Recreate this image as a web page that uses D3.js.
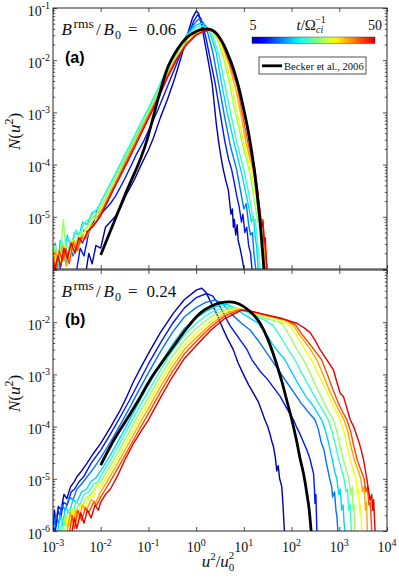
<!DOCTYPE html>
<html><head><meta charset="utf-8">
<script src="https://cdn.jsdelivr.net/npm/d3@7"></script>
<style>body{margin:0;background:#fff}svg{display:block}</style>
</head><body>
<svg id="c" width="399" height="578"></svg>
<script>
// ---------------- DATA ----------------
// times of the coloured curves (t / Omega_ci^-1)
const times = [5,10,15,20,25,30,35,40,45,50];
const panelLabels = ["(a)","(b)"];
const brmsValues = ["0.06","0.24"];
const xTickExps = [-3,-2,-1,0,1,2,3,4];
const yTickExpsA = [-5,-4,-3,-2,-1];
const yTickExpsB = [-6,-5,-4,-3,-2];
const legendText = "Becker et al., 2006";
// each point: [log10(u^2/u0^2), log10 N(u^2)]
// ---- panel (a) B_rms/B0 = 0.06 ----
const a05=[[-2.3,-6.0],[-2.25,-5.7],[-2.18,-5.9],[-2.1,-5.55],[-2.0,-5.6],[-1.9,-5.2],[-1.8,-5.1],[-1.7,-5.0],[-1.6,-4.85],[-1.45,-4.55],[-1.3,-4.3],[-1.15,-4.0],[-1.0,-3.72],[-0.9,-3.5],[-0.75,-3.1],[-0.6,-2.75],[-0.45,-2.35],[-0.3,-1.9],[-0.18,-1.5],[-0.08,-1.2],[0.0,-1.06],[0.05,-1.1],[0.12,-1.35],[0.2,-1.75],[0.27,-2.1],[0.335,-2.45],[0.375,-2.8],[0.42,-3.2],[0.466,-3.53],[0.52,-3.85],[0.57,-4.1],[0.62,-4.3],[0.675,-4.49],[0.7,-4.7],[0.73,-4.95],[0.76,-4.85],[0.78,-5.2],[0.8,-5.05],[0.83,-5.35],[0.86,-5.15],[0.88,-5.45],[0.92,-5.6],[0.97,-5.83],[1.0,-6.0]];
const a10=[[-2.5,-6.0],[-2.43,-5.6],[-2.35,-5.75],[-2.25,-5.3],[-2.15,-5.1],[-2.08,-4.9],[-2.0,-4.95],[-1.9,-4.85],[-1.8,-4.75],[-1.7,-4.62],[-1.6,-4.45],[-1.5,-4.28],[-1.38,-4.05],[-1.25,-3.8],[-1.1,-3.55],[-1.0,-3.35],[-0.8,-2.95],[-0.6,-2.5],[-0.4,-2.05],[-0.2,-1.6],[-0.05,-1.25],[0.03,-1.13],[0.1,-1.2],[0.2,-1.55],[0.3,-2.0],[0.405,-2.475],[0.5,-3.0],[0.6,-3.55],[0.68,-3.9],[0.745,-4.1],[0.8,-4.35],[0.85,-4.6],[0.9,-4.8],[0.95,-5.1],[0.98,-4.95],[1.02,-5.3],[1.06,-5.2],[1.1,-5.55],[1.14,-5.7],[1.17,-6.0]];
const a15=[[-2.95,-6.0],[-2.9,-5.75],[-2.85,-6.0],[-2.8,-5.7],[-2.72,-5.9],[-2.65,-5.55],[-2.58,-5.75],[-2.5,-5.45],[-2.42,-5.5],[-2.35,-5.25],[-2.25,-5.3],[-2.15,-5.05],[-2.05,-4.98],[-1.95,-4.78],[-1.8,-4.52],[-1.65,-4.25],[-1.5,-3.95],[-1.3,-3.55],[-1.1,-3.2],[-0.9,-2.85],[-0.7,-2.45],[-0.5,-2.05],[-0.3,-1.7],[-0.15,-1.45],[0.0,-1.26],[0.06,-1.21],[0.15,-1.28],[0.25,-1.5],[0.35,-1.85],[0.476,-2.475],[0.6,-3.1],[0.72,-3.65],[0.85,-4.1],[0.93,-4.5],[1.0,-4.85],[1.05,-4.75],[1.1,-5.15],[1.14,-5.35],[1.18,-5.3],[1.21,-5.7],[1.25,-6.0]];
const a20=[[-3.0,-5.75],[-2.95,-5.5],[-2.9,-6.0],[-2.85,-5.45],[-2.78,-5.75],[-2.7,-5.35],[-2.62,-5.6],[-2.55,-5.3],[-2.45,-5.35],[-2.38,-5.1],[-2.28,-5.15],[-2.18,-4.92],[-2.08,-4.87],[-2.0,-4.72],[-1.85,-4.45],[-1.7,-4.2],[-1.55,-3.92],[-1.4,-3.65],[-1.2,-3.28],[-1.0,-2.92],[-0.8,-2.55],[-0.6,-2.13],[-0.4,-1.8],[-0.2,-1.52],[0.0,-1.33],[0.1,-1.29],[0.2,-1.33],[0.3,-1.5],[0.42,-1.85],[0.539,-2.475],[0.65,-3.0],[0.8,-3.6],[0.935,-4.1],[1.02,-4.45],[1.1,-4.8],[1.16,-5.1],[1.2,-5.0],[1.24,-5.4],[1.27,-5.6],[1.3,-6.0]];
const a25=[[-3.0,-6.0],[-2.95,-5.65],[-2.88,-5.9],[-2.82,-5.45],[-2.75,-5.7],[-2.68,-5.4],[-2.6,-5.55],[-2.52,-5.25],[-2.44,-5.35],[-2.35,-5.12],[-2.25,-5.05],[-2.15,-4.92],[-2.05,-4.82],[-1.9,-4.55],[-1.75,-4.28],[-1.6,-4.0],[-1.4,-3.65],[-1.2,-3.28],[-1.0,-2.93],[-0.8,-2.56],[-0.6,-2.15],[-0.4,-1.82],[-0.2,-1.55],[0.0,-1.38],[0.13,-1.34],[0.25,-1.4],[0.35,-1.55],[0.48,-1.9],[0.602,-2.475],[0.72,-3.0],[0.86,-3.6],[1.0,-4.1],[1.08,-4.45],[1.15,-4.8],[1.2,-5.1],[1.24,-5.05],[1.28,-5.45],[1.31,-5.7],[1.34,-6.0]];
const a30=[[-3.0,-5.9],[-2.96,-5.55],[-2.9,-5.8],[-2.84,-5.65],[-2.78,-5.05],[-2.72,-5.8],[-2.64,-5.5],[-2.56,-5.7],[-2.48,-5.35],[-2.4,-5.4],[-2.3,-5.2],[-2.2,-5.05],[-2.1,-4.95],[-2.0,-4.82],[-1.85,-4.55],[-1.7,-4.27],[-1.55,-4.0],[-1.4,-3.72],[-1.2,-3.35],[-1.0,-2.99],[-0.8,-2.62],[-0.6,-2.22],[-0.4,-1.88],[-0.2,-1.6],[0.0,-1.43],[0.2,-1.39],[0.33,-1.45],[0.46,-1.63],[0.58,-1.98],[0.706,-2.475],[0.82,-3.0],[0.97,-3.6],[1.11,-4.1],[1.18,-4.45],[1.24,-4.8],[1.29,-5.1],[1.32,-5.05],[1.35,-5.5],[1.38,-5.7],[1.4,-6.0]];
const a35=[[-3.0,-5.8],[-2.95,-6.0],[-2.9,-5.65],[-2.83,-5.9],[-2.76,-5.55],[-2.68,-5.75],[-2.6,-5.45],[-2.52,-5.6],[-2.44,-5.35],[-2.35,-5.3],[-2.25,-5.2],[-2.15,-5.05],[-2.05,-4.95],[-1.95,-4.78],[-1.8,-4.52],[-1.65,-4.25],[-1.5,-3.98],[-1.3,-3.6],[-1.1,-3.24],[-0.9,-2.87],[-0.7,-2.48],[-0.5,-2.1],[-0.3,-1.78],[-0.1,-1.55],[0.1,-1.43],[0.23,-1.4],[0.36,-1.46],[0.49,-1.65],[0.62,-2.0],[0.748,-2.475],[0.86,-3.0],[1.0,-3.6],[1.15,-4.1],[1.22,-4.45],[1.28,-4.8],[1.32,-5.1],[1.35,-5.0],[1.38,-5.45],[1.41,-5.65],[1.43,-6.0]];
const a40=[[-3.0,-6.0],[-2.95,-5.65],[-2.88,-5.85],[-2.8,-5.55],[-2.72,-5.95],[-2.64,-5.6],[-2.56,-5.45],[-2.48,-5.65],[-2.4,-5.35],[-2.3,-5.4],[-2.2,-5.18],[-2.1,-5.1],[-2.0,-4.95],[-1.85,-4.65],[-1.7,-4.38],[-1.55,-4.1],[-1.4,-3.82],[-1.2,-3.45],[-1.0,-3.08],[-0.8,-2.7],[-0.6,-2.3],[-0.4,-1.95],[-0.2,-1.67],[0.0,-1.5],[0.26,-1.41],[0.4,-1.47],[0.53,-1.67],[0.67,-2.02],[0.83,-2.55],[0.93,-3.0],[1.05,-3.6],[1.19,-4.1],[1.26,-4.45],[1.32,-4.8],[1.36,-5.1],[1.39,-5.05],[1.42,-5.5],[1.44,-5.75],[1.46,-6.0]];
const a45=[[-3.0,-5.75],[-2.94,-6.0],[-2.87,-5.65],[-2.8,-5.85],[-2.73,-5.6],[-2.66,-5.9],[-2.58,-5.5],[-2.5,-5.65],[-2.42,-5.4],[-2.33,-5.42],[-2.23,-5.22],[-2.13,-5.15],[-2.03,-5.0],[-1.9,-4.75],[-1.75,-4.47],[-1.6,-4.2],[-1.45,-3.92],[-1.25,-3.55],[-1.05,-3.17],[-0.85,-2.8],[-0.65,-2.4],[-0.45,-2.03],[-0.25,-1.74],[-0.05,-1.54],[0.15,-1.45],[0.27,-1.415],[0.42,-1.48],[0.56,-1.7],[0.7,-2.05],[0.86,-2.5],[0.96,-2.98],[1.08,-3.55],[1.21,-4.1],[1.28,-4.47],[1.33,-4.82],[1.37,-5.12],[1.4,-5.05],[1.43,-5.5],[1.46,-5.7],[1.48,-6.0]];
const a50=[[-3.0,-5.85],[-2.96,-6.0],[-2.9,-5.75],[-2.84,-5.95],[-2.77,-5.6],[-2.7,-5.8],[-2.62,-5.5],[-2.54,-5.7],[-2.46,-5.4],[-2.38,-5.5],[-2.28,-5.28],[-2.18,-5.2],[-2.08,-5.08],[-2.0,-4.98],[-1.85,-4.7],[-1.7,-4.42],[-1.55,-4.15],[-1.4,-3.88],[-1.2,-3.5],[-1.0,-3.12],[-0.8,-2.75],[-0.6,-2.33],[-0.4,-1.98],[-0.2,-1.7],[0.0,-1.52],[0.15,-1.45],[0.29,-1.42],[0.45,-1.5],[0.6,-1.72],[0.75,-2.1],[0.89,-2.475],[1.0,-2.95],[1.1,-3.45],[1.18,-3.85],[1.235,-4.1],[1.29,-4.5],[1.33,-4.85],[1.37,-5.2],[1.4,-5.1],[1.43,-5.5],[1.45,-5.4],[1.47,-5.8],[1.49,-6.0]];
const beckerA=[[-2.0,-5.73],[-1.5,-4.6],[-1.03,-3.53],[-0.8,-2.75],[-0.6,-2.15],[-0.4,-1.8],[-0.2,-1.57],[0.0,-1.45],[0.12,-1.41],[0.23,-1.4],[0.35,-1.43],[0.5,-1.58],[0.65,-1.85],[0.8,-2.22],[0.9,-2.55],[1.0,-2.95],[1.1,-3.4],[1.2,-3.98],[1.3,-4.75],[1.36,-5.3],[1.4,-5.75],[1.42,-6.0]];
// ---- panel (b) B_rms/B0 = 0.24 ----
const b05=[[-3.0,-6.0],[-2.97,-5.6],[-2.93,-5.9],[-2.89,-5.53],[-2.83,-5.6],[-2.77,-5.3],[-2.71,-5.38],[-2.63,-5.15],[-2.55,-5.05],[-2.5,-4.96],[-2.4,-4.85],[-2.3,-4.72],[-2.15,-4.51],[-2.0,-4.32],[-1.8,-4.02],[-1.6,-3.7],[-1.45,-3.42],[-1.32,-3.15],[-1.15,-2.85],[-0.97,-2.55],[-0.75,-2.2],[-0.48,-1.83],[-0.25,-1.57],[0.01,-1.38],[0.117,-1.35],[0.2,-1.42],[0.3,-1.6],[0.4,-1.78],[0.47,-1.92],[0.55,-2.1],[0.65,-2.3],[0.78,-2.53],[0.88,-2.78],[0.99,-3.0],[1.1,-3.2],[1.2,-3.36],[1.3,-3.52],[1.375,-3.7],[1.44,-3.87],[1.5,-4.0],[1.55,-4.15],[1.585,-4.28],[1.62,-4.38],[1.66,-4.6],[1.69,-4.85],[1.72,-4.75],[1.75,-5.0],[1.795,-5.15],[1.82,-5.5],[1.85,-6.0]];
const b10=[[-3.0,-5.9],[-2.95,-6.0],[-2.9,-5.6],[-2.84,-5.75],[-2.78,-5.45],[-2.7,-5.5],[-2.62,-5.25],[-2.55,-5.2],[-2.45,-5.05],[-2.35,-4.95],[-2.2,-4.7],[-2.0,-4.45],[-1.8,-4.15],[-1.6,-3.83],[-1.4,-3.5],[-1.2,-3.15],[-1.0,-2.8],[-0.75,-2.4],[-0.5,-2.03],[-0.25,-1.73],[0.0,-1.53],[0.22,-1.45],[0.35,-1.5],[0.5,-1.7],[0.7,-2.05],[0.92,-2.34],[1.05,-2.5],[1.17,-2.72],[1.34,-2.94],[1.5,-3.1],[1.62,-3.25],[1.76,-3.42],[1.9,-3.65],[2.04,-3.87],[2.1,-4.0],[2.18,-4.15],[2.25,-4.3],[2.32,-4.45],[2.38,-4.6],[2.42,-4.75],[2.46,-4.9],[2.48,-5.2],[2.49,-5.47],[2.51,-5.3],[2.53,-6.0]];
const b15=[[-3.0,-6.0],[-2.94,-5.7],[-2.88,-5.85],[-2.82,-5.5],[-2.74,-5.6],[-2.66,-5.35],[-2.58,-5.4],[-2.5,-5.2],[-2.4,-5.1],[-2.3,-4.98],[-2.15,-4.8],[-2.0,-4.6],[-1.8,-4.3],[-1.6,-3.98],[-1.4,-3.65],[-1.2,-3.3],[-1.0,-2.97],[-0.75,-2.57],[-0.5,-2.2],[-0.25,-1.9],[0.0,-1.72],[0.2,-1.62],[0.4,-1.575],[0.55,-1.64],[0.75,-1.85],[0.95,-2.02],[1.13,-2.15],[1.3,-2.35],[1.45,-2.55],[1.58,-2.72],[1.75,-2.95],[1.9,-3.15],[2.05,-3.35],[2.2,-3.55],[2.35,-3.72],[2.49,-3.87],[2.56,-4.05],[2.62,-4.3],[2.68,-4.45],[2.73,-4.7],[2.8,-5.0],[2.84,-5.15],[2.86,-5.35],[2.9,-5.25],[2.93,-5.6],[2.95,-5.72],[2.97,-6.0]];
const b20=[[-2.9,-6.0],[-2.85,-5.7],[-2.8,-5.9],[-2.74,-5.55],[-2.66,-5.65],[-2.58,-5.4],[-2.5,-5.45],[-2.4,-5.25],[-2.3,-5.2],[-2.2,-5.05],[-2.1,-4.98],[-2.0,-4.85],[-1.8,-4.55],[-1.6,-4.22],[-1.4,-3.88],[-1.2,-3.53],[-1.0,-3.2],[-0.75,-2.8],[-0.5,-2.43],[-0.25,-2.12],[0.0,-1.92],[0.3,-1.74],[0.5,-1.67],[0.65,-1.66],[0.8,-1.72],[1.0,-1.85],[1.15,-1.93],[1.3,-2.02],[1.45,-2.2],[1.6,-2.42],[1.75,-2.6],[1.86,-2.72],[2.0,-2.95],[2.15,-3.2],[2.3,-3.42],[2.45,-3.6],[2.55,-3.75],[2.63,-3.87],[2.7,-4.05],[2.76,-4.25],[2.82,-4.5],[2.86,-4.65],[2.9,-4.85],[2.95,-5.0],[2.99,-5.3],[3.02,-5.2],[3.05,-5.6],[3.08,-5.5],[3.1,-5.85],[3.12,-6.0]];
const b25=[[-2.85,-6.0],[-2.8,-5.75],[-2.75,-5.9],[-2.68,-5.6],[-2.6,-5.7],[-2.52,-5.45],[-2.44,-5.5],[-2.35,-5.3],[-2.25,-5.25],[-2.15,-5.1],[-2.05,-5.05],[-2.0,-4.95],[-1.8,-4.65],[-1.6,-4.32],[-1.4,-3.98],[-1.2,-3.64],[-1.0,-3.32],[-0.75,-2.92],[-0.5,-2.55],[-0.25,-2.25],[0.0,-2.02],[0.3,-1.82],[0.55,-1.72],[0.72,-1.7],[0.9,-1.74],[1.1,-1.82],[1.3,-1.9],[1.45,-1.97],[1.6,-2.05],[1.75,-2.25],[1.9,-2.48],[2.07,-2.72],[2.2,-2.95],[2.35,-3.2],[2.5,-3.45],[2.63,-3.65],[2.77,-3.87],[2.85,-4.1],[2.92,-4.35],[2.98,-4.6],[3.04,-4.8],[3.1,-5.0],[3.14,-5.25],[3.17,-5.2],[3.2,-5.6],[3.23,-5.5],[3.25,-6.0]];
const b30=[[-2.8,-6.0],[-2.74,-5.7],[-2.7,-5.95],[-2.63,-5.6],[-2.55,-5.75],[-2.47,-5.5],[-2.4,-5.55],[-2.3,-5.35],[-2.2,-5.3],[-2.1,-5.15],[-2.0,-5.05],[-1.8,-4.75],[-1.6,-4.43],[-1.4,-4.1],[-1.2,-3.76],[-1.0,-3.44],[-0.75,-3.03],[-0.5,-2.66],[-0.25,-2.35],[0.0,-2.12],[0.3,-1.9],[0.6,-1.76],[0.8,-1.72],[1.0,-1.76],[1.2,-1.83],[1.4,-1.9],[1.6,-1.96],[1.8,-2.02],[1.95,-2.25],[2.1,-2.5],[2.25,-2.72],[2.4,-3.0],[2.55,-3.3],[2.7,-3.58],[2.8,-3.75],[2.88,-3.87],[2.95,-4.1],[3.02,-4.38],[3.08,-4.62],[3.14,-4.8],[3.2,-5.0],[3.24,-5.3],[3.27,-5.15],[3.29,-5.6],[3.31,-5.5],[3.32,-6.0]];
const b35=[[-2.75,-6.0],[-2.7,-5.7],[-2.64,-5.9],[-2.58,-5.55],[-2.5,-5.8],[-2.42,-5.5],[-2.34,-5.6],[-2.25,-5.35],[-2.15,-5.35],[-2.08,-5.1],[-2.0,-5.15],[-1.8,-4.85],[-1.6,-4.53],[-1.4,-4.2],[-1.2,-3.87],[-1.0,-3.55],[-0.75,-3.14],[-0.5,-2.77],[-0.25,-2.45],[0.0,-2.22],[0.3,-1.98],[0.6,-1.8],[0.85,-1.74],[1.05,-1.77],[1.3,-1.84],[1.55,-1.9],[1.75,-1.96],[1.95,-2.05],[2.1,-2.25],[2.25,-2.48],[2.42,-2.72],[2.55,-2.98],[2.7,-3.25],[2.82,-3.5],[2.93,-3.7],[3.02,-3.87],[3.1,-4.1],[3.17,-4.4],[3.23,-4.65],[3.3,-4.85],[3.35,-5.0],[3.38,-5.3],[3.4,-5.2],[3.43,-5.65],[3.45,-5.5],[3.47,-6.0]];
const b40=[[-2.7,-6.0],[-2.64,-5.65],[-2.58,-5.85],[-2.52,-5.6],[-2.45,-5.75],[-2.38,-5.5],[-2.3,-5.6],[-2.2,-5.4],[-2.1,-5.45],[-2.0,-5.25],[-1.9,-5.1],[-1.8,-4.95],[-1.6,-4.63],[-1.4,-4.3],[-1.2,-3.97],[-1.0,-3.65],[-0.75,-3.24],[-0.5,-2.86],[-0.25,-2.53],[0.0,-2.3],[0.3,-2.05],[0.6,-1.84],[0.9,-1.75],[1.1,-1.78],[1.35,-1.85],[1.6,-1.9],[1.85,-1.96],[2.03,-2.05],[2.2,-2.28],[2.38,-2.5],[2.53,-2.72],[2.65,-2.98],[2.78,-3.28],[2.9,-3.52],[3.0,-3.7],[3.1,-3.87],[3.18,-4.1],[3.25,-4.4],[3.32,-4.65],[3.4,-4.85],[3.45,-5.0],[3.49,-5.25],[3.52,-5.15],[3.55,-5.6],[3.57,-5.45],[3.59,-6.0]];
const b45=[[-2.65,-6.0],[-2.6,-5.7],[-2.55,-5.95],[-2.48,-5.6],[-2.4,-5.8],[-2.32,-5.55],[-2.25,-5.65],[-2.15,-5.45],[-2.08,-5.5],[-2.0,-5.35],[-1.9,-5.2],[-1.8,-5.05],[-1.6,-4.73],[-1.4,-4.4],[-1.2,-4.07],[-1.0,-3.75],[-0.75,-3.34],[-0.5,-2.95],[-0.25,-2.61],[0.0,-2.37],[0.3,-2.1],[0.6,-1.88],[0.93,-1.76],[1.15,-1.79],[1.4,-1.85],[1.65,-1.9],[1.9,-1.96],[2.08,-2.05],[2.25,-2.27],[2.45,-2.5],[2.63,-2.72],[2.75,-3.0],[2.87,-3.3],[2.98,-3.55],[3.07,-3.72],[3.16,-3.87],[3.24,-4.1],[3.31,-4.4],[3.38,-4.65],[3.46,-4.85],[3.52,-5.0],[3.56,-5.25],[3.59,-5.15],[3.62,-5.5],[3.65,-5.45],[3.68,-6.0]];
const b50=[[-2.6,-6.0],[-2.55,-5.75],[-2.5,-5.95],[-2.42,-5.65],[-2.35,-5.85],[-2.28,-5.6],[-2.2,-5.75],[-2.12,-5.5],[-2.05,-5.6],[-2.0,-5.45],[-1.9,-5.3],[-1.8,-5.2],[-1.65,-4.95],[-1.5,-4.65],[-1.3,-4.3],[-1.15,-4.08],[-1.0,-3.87],[-0.75,-3.45],[-0.5,-3.05],[-0.25,-2.7],[0.0,-2.45],[0.3,-2.16],[0.6,-1.93],[0.955,-1.77],[1.2,-1.8],[1.48,-1.86],[1.8,-1.93],[2.11,-2.02],[2.25,-2.1],[2.39,-2.2],[2.5,-2.36],[2.6,-2.53],[2.74,-2.72],[2.88,-2.92],[2.95,-3.15],[3.02,-3.36],[3.09,-3.43],[3.16,-3.65],[3.23,-3.87],[3.3,-4.0],[3.4,-4.26],[3.46,-4.45],[3.51,-4.64],[3.58,-5.02],[3.645,-5.41],[3.68,-5.3],[3.7,-5.6],[3.72,-5.4],[3.75,-6.0]];
const beckerB=[[-2.0,-4.74],[-1.75,-4.3],[-1.46,-3.87],[-1.2,-3.48],[-0.97,-3.11],[-0.7,-2.75],[-0.48,-2.47],[-0.2,-2.12],[0.08,-1.83],[0.3,-1.7],[0.5,-1.63],[0.7,-1.61],[0.9,-1.65],[1.1,-1.77],[1.34,-2.02],[1.5,-2.32],[1.65,-2.7],[1.8,-3.15],[1.9,-3.5],[2.0,-3.85],[2.1,-4.25],[2.18,-4.62],[2.25,-4.9],[2.32,-5.28],[2.37,-5.6],[2.41,-6.0]];

const panelAData=[a05,a10,a15,a20,a25,a30,a35,a40,a45,a50];
const panelBData=[b05,b10,b15,b20,b25,b30,b35,b40,b45,b50];

// ---------------- DRAW ----------------
const svg=d3.select("#c");
const AX="#262626";
const SERIF="'Liberation Serif','Times New Roman',Times,serif";
const SANS="'Liberation Sans',Arial,Helvetica,sans-serif";
const X0=53,X1=387;
const x=d3.scaleLog().domain([1e-3,1e4]).range([X0,X1]);
const jet=v=>{const c=q=>Math.max(0,Math.min(1,q));return d3.rgb(255*c(1.5-Math.abs(4*v-3)),255*c(1.5-Math.abs(4*v-2)),255*c(1.5-Math.abs(4*v-1))).formatHex();};
const tNorm=d3.scaleLinear().domain([5,50]).range([0.05,0.9]);
const color=t=>jet(tNorm(t));

const panels=[
 {top:8,bottom:269,data:panelAData,black:beckerA,label:panelLabels[0],brms:brmsValues[0],yl:yTickExpsA,xl:false},
 {top:270,bottom:531,data:panelBData,black:beckerB,label:panelLabels[1],brms:brmsValues[1],yl:yTickExpsB,xl:true}
];
const toVal=d=>[Math.pow(10,d[0]),Math.pow(10,d[1])];

panels.forEach((p,pi)=>{
  const y=d3.scaleLog().domain([1e-6,1e-1]).range([p.bottom,p.top]);
  const g=svg.append("g");
  const cid="clip"+pi;
  svg.append("clipPath").attr("id",cid).append("rect").attr("x",X0).attr("y",p.top).attr("width",X1-X0).attr("height",p.bottom-p.top);
  const line=d3.line().x(d=>x(d[0])).y(d=>y(d[1]));
  const cg=g.append("g").attr("clip-path",`url(#${cid})`);
  p.data.forEach((c,i)=>{
    cg.append("path").attr("d",line(c.map(toVal))).attr("fill","none")
      .attr("stroke",color(times[i])).attr("stroke-width",1.4).attr("stroke-linejoin","round");
  });
  cg.append("path").attr("d",line.curve(d3.curveMonotoneX)(p.black.map(toVal))).attr("fill","none")
    .attr("stroke","#000").attr("stroke-width",2.8);

  // axes (ticks inward)
  const majorsX=xTickExps.map(e=>Math.pow(10,e));
  const majY=[-6,-5,-4,-3,-2,-1].map(e=>Math.pow(10,e));
  const minY=[];
  for(let e=-6;e<-1;e++) for(let m=2;m<=9;m++) minY.push(m*Math.pow(10,e));
  const axStyle=s=>{s.select(".domain").remove();s.selectAll("line").attr("stroke",AX).attr("stroke-width",0.8);s.selectAll("text").remove();};
  g.append("g").attr("transform",`translate(0,${p.bottom})`).call(d3.axisBottom(x).tickValues(majorsX).tickSize(-4).tickFormat("")).call(axStyle);
  g.append("g").attr("transform",`translate(0,${p.top})`).call(d3.axisTop(x).tickValues(majorsX).tickSize(-4).tickFormat("")).call(axStyle);
  g.append("g").attr("transform",`translate(${X0},0)`).call(d3.axisLeft(y).tickValues(majY).tickSize(-4).tickFormat("")).call(axStyle);
  g.append("g").attr("transform",`translate(${X1},0)`).call(d3.axisRight(y).tickValues(majY).tickSize(-4).tickFormat("")).call(axStyle);
  g.append("g").attr("transform",`translate(${X0},0)`).call(d3.axisLeft(y).tickValues(minY).tickSize(-2.2).tickFormat("")).call(axStyle);
  g.append("g").attr("transform",`translate(${X1},0)`).call(d3.axisRight(y).tickValues(minY).tickSize(-2.2).tickFormat("")).call(axStyle);
  g.append("rect").attr("x",X0).attr("y",p.top).attr("width",X1-X0).attr("height",p.bottom-p.top)
    .attr("fill","none").attr("stroke",AX).attr("stroke-width",1);

  // y tick labels
  p.yl.forEach(e=>{
    const t=g.append("text").attr("x",50).attr("y",y(Math.pow(10,e))+7.5).attr("text-anchor","end")
      .attr("font-family",SERIF).attr("fill","#111");
    t.append("tspan").attr("font-size",14).text("10");
    t.append("tspan").attr("font-size",10).attr("dy",-6.5).text(String(e));
  });
  if(p.xl){
    xTickExps.forEach(e=>{
      const t=g.append("text").attr("x",x(Math.pow(10,e))).attr("y",p.bottom+21).attr("text-anchor","middle")
        .attr("font-family",SERIF).attr("fill","#111");
      t.append("tspan").attr("font-size",14).text("10");
      t.append("tspan").attr("font-size",10).attr("dy",-6.5).text(String(e));
    });
  }
  // y axis label
  const cy=(p.top+p.bottom)/2-7;
  const yl=g.append("text").attr("transform",`translate(20,${cy}) rotate(-90)`).attr("text-anchor","middle")
    .attr("font-family",SERIF).attr("font-size",17).attr("fill","#111");
  yl.append("tspan").attr("font-style","italic").text("N");
  yl.append("tspan").text("(");
  yl.append("tspan").attr("font-style","italic").text("u");
  yl.append("tspan").attr("font-size",12).attr("dy",-7).text("2");
  yl.append("tspan").attr("dy",7).text(")");

  // annotation B_rms/B0
  const by=p.top+27;
  const bt=g.append("text").attr("y",by).attr("font-family",SERIF).attr("font-size",17).attr("fill","#111");
  bt.append("tspan").attr("x",61.5).attr("font-style","italic").text("B");
  bt.append("tspan").attr("x",73.5).attr("dy",-7).attr("font-size",13.5).text("rms");
  bt.append("tspan").attr("x",96).attr("dy",7).text("/");
  bt.append("tspan").attr("x",103.5).attr("font-style","italic").text("B");
  bt.append("tspan").attr("x",115).attr("dy",3.5).attr("font-size",12).text("0");
  bt.append("tspan").attr("x",128).attr("dy",-3.5).text("=");
  bt.append("tspan").attr("x",146.5).text(p.brms);
  // panel label
  g.append("text").attr("x",65).attr("y",p.top+54.5).attr("font-family",SANS).attr("font-size",16)
    .attr("font-weight","bold").attr("fill","#000").text(p.label);
});

// x axis label
const xl=svg.append("text").attr("x",218).attr("y",567).attr("text-anchor","middle")
  .attr("font-family",SERIF).attr("font-size",17).attr("fill","#111");
xl.append("tspan").attr("font-style","italic").text("u");
xl.append("tspan").attr("font-size",11).attr("dy",-7).text("2");
xl.append("tspan").attr("dy",7).text("/");
xl.append("tspan").attr("font-style","italic").text("u");
xl.append("tspan").attr("font-size",11).attr("dy",4).text("0");
xl.append("tspan").attr("font-size",11).attr("dx",-5.5).attr("dy",-12).text("2");

// colour bar
const cbX=252,cbW=123,cbY=37,cbH=6.5;
const grad=svg.append("defs").append("linearGradient").attr("id","jetg");
d3.range(0,1.0001,0.05).forEach(f=>{
  grad.append("stop").attr("offset",f).attr("stop-color",color(5+45*f));
});
const cbScale=d3.scaleLinear().domain([times[0],times[times.length-1]]).range([cbX,cbX+cbW]);
svg.append("rect").attr("x",cbX).attr("y",cbY).attr("width",cbW).attr("height",cbH).attr("fill","url(#jetg)")
  .attr("stroke",AX).attr("stroke-width",0.4);
[times[0],times[times.length-1]].forEach(t=>{
  svg.append("text").attr("x",cbScale(t)+(t===50?0:1)).attr("y",30).attr("text-anchor","middle")
    .attr("font-family",SERIF).attr("font-size",14).attr("fill","#111").text(String(t));
});
const ct=svg.append("text").attr("x",296.5).attr("y",30).attr("font-family",SERIF).attr("font-size",15).attr("fill","#111");
ct.append("tspan").attr("font-style","italic").text("t");
ct.append("tspan").text("/Ω");
ct.append("tspan").attr("font-size",10).attr("font-style","italic").attr("dy",3).text("ci");
ct.append("tspan").attr("font-size",10).attr("dx",-8).attr("dy",-10).text("−1");

// legend
svg.append("rect").attr("x",259).attr("y",57).attr("width",107).attr("height",17).attr("fill","#fff")
  .attr("stroke",AX).attr("stroke-width",0.8);
svg.append("line").attr("x1",262).attr("x2",282).attr("y1",65.8).attr("y2",65.8).attr("stroke","#000").attr("stroke-width",2.8);
svg.append("text").attr("x",284).attr("y",69.8).attr("font-family",SERIF).attr("font-size",10.6).attr("fill","#111").text(legendText);
</script>
</body></html>
